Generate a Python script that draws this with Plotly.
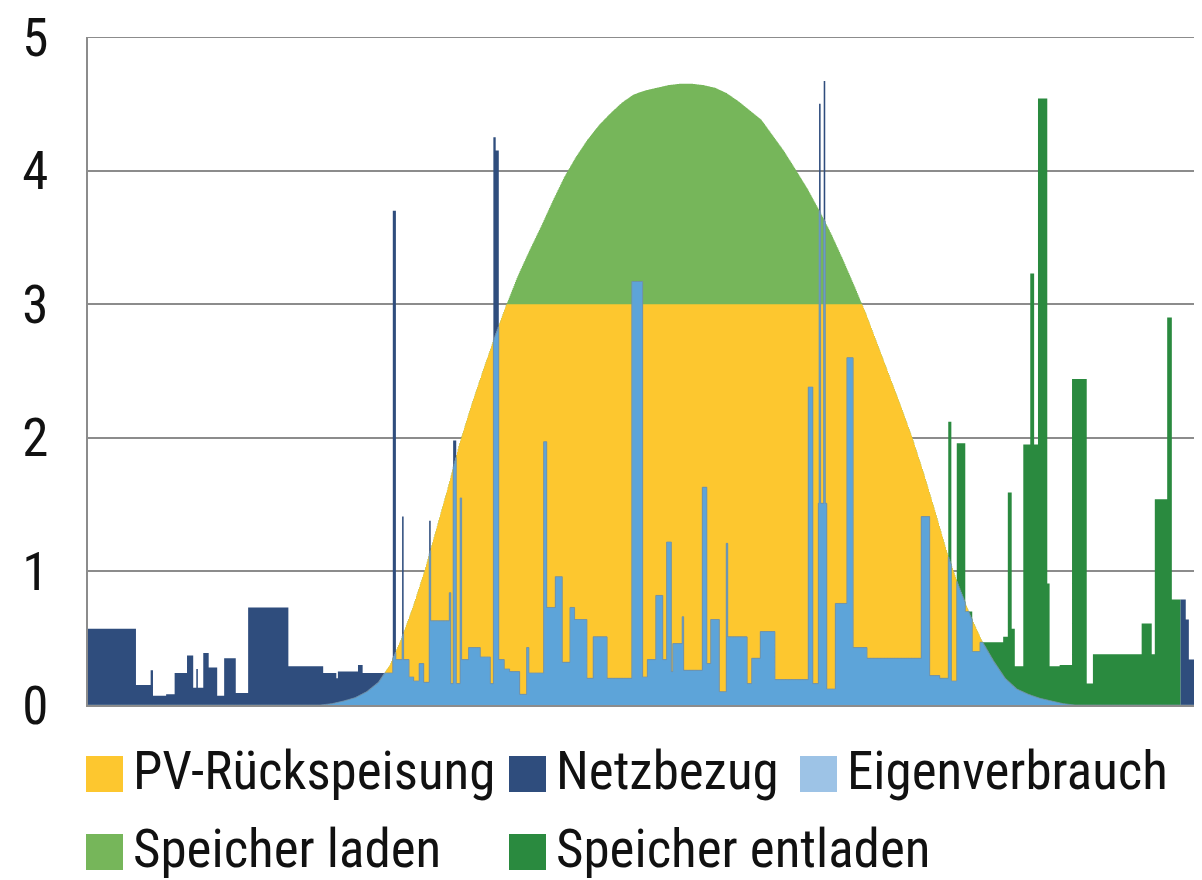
import numpy as np
import plotly.graph_objects as go

# PV generation (kW), sampled every 15 minutes; minute of the day
pv_minute = [285, 300, 315, 330, 345, 360, 375, 390, 405, 420, 435, 450, 465, 480,
             495, 510, 525, 540, 555, 570, 585, 600, 615, 630, 645, 660, 675, 690,
             705, 720, 735, 750, 765, 780, 795, 810, 825, 840, 855, 870, 885, 900,
             915, 930, 945, 960, 975, 990, 1005, 1020, 1035, 1050, 1065, 1080, 1095,
             1110, 1125, 1140, 1155, 1170, 1185, 1200, 1215, 1230, 1245, 1260, 1275, 1290]
pv_kw = [0.00, 0.00, 0.01, 0.03, 0.055, 0.10, 0.17, 0.30, 0.50, 0.74, 1.01, 1.32, 1.63, 1.96,
         2.24, 2.50, 2.75, 2.99, 3.21, 3.40, 3.58, 3.77, 3.95, 4.10, 4.23, 4.34, 4.43, 4.51,
         4.57, 4.60, 4.62, 4.64, 4.65, 4.65, 4.64, 4.62, 4.58, 4.52, 4.45, 4.38, 4.26, 4.14,
         4.00, 3.86, 3.70, 3.53, 3.34, 3.14, 2.93, 2.70, 2.47, 2.24, 2.00, 1.73, 1.44,
         1.14, 0.89, 0.67, 0.48, 0.33, 0.20, 0.12, 0.08, 0.05, 0.03, 0.01, 0.00, 0.00]

# household load (kW): each value holds from its minute until the next entry
load_minute = [0, 62, 81, 84, 101, 112, 128, 136, 140, 142, 149, 156, 167, 176, 191, 207,
               259, 304, 321, 323, 349, 355, 394, 398, 406, 408, 415, 421, 428, 434, 441,
               443, 467, 469, 472, 476, 481, 483, 492, 507, 520, 524, 527, 531, 538, 545,
               558, 567, 570, 589, 593, 604, 613, 623, 629, 645, 653, 671, 703, 717, 723,
               734, 743, 748, 754, 756, 768, 770, 794, 800, 805, 816, 825, 827, 852, 858,
               869, 888, 931, 937, 944, 945, 947, 951, 953, 955, 966, 981, 989, 1007, 1077,
               1088, 1101, 1112, 1116, 1123, 1134, 1143, 1153, 1183, 1189, 1194, 1198, 1209,
               1218, 1223, 1228, 1240, 1243, 1256, 1272, 1291, 1299, 1362, 1375, 1379, 1395,
               1401, 1419, 1423, 1440]
load_kw = [0.57, 0.15, 0.26, 0.07, 0.08, 0.24, 0.37, 0.13, 0.27, 0.13, 0.39, 0.28, 0.07, 0.35, 0.09, 0.73,
           0.29, 0.24, 0.20, 0.25, 0.30, 0.24, 3.70, 0.34, 1.41, 0.34, 0.21, 0.18, 0.31, 0.17, 1.38,
           0.63, 0.84, 0.16, 1.98, 0.16, 1.55, 0.34, 0.43, 0.36, 0.16, 4.25, 4.15, 0.34, 0.27, 0.25,
           0.08, 0.43, 0.24, 1.97, 0.73, 0.96, 0.32, 0.73, 0.64, 0.20, 0.51, 0.20, 3.17, 0.21, 0.34,
           0.82, 0.34, 1.22, 0.25, 0.46, 0.66, 0.26, 1.63, 0.31, 0.64, 0.10, 1.21, 0.51, 0.16, 0.35,
           0.55, 0.19, 2.38, 0.16, 1.51, 4.50, 1.51, 4.67, 1.51, 0.12, 0.76, 2.60, 0.43, 0.35, 1.41,
           0.22, 0.20, 2.12, 0.18, 1.96, 0.70, 0.40, 0.47, 0.51, 1.59, 0.57, 0.29, 1.95,
           3.23, 1.95, 4.54, 0.91, 0.29, 0.30, 2.44, 0.16, 0.38, 0.61, 0.38, 1.54, 2.90,
           0.79, 0.64, 0.34, 0.34]

# battery covers the deficit in this window, grid otherwise
battery_from = 1105
battery_to = 1412
feed_in_limit = 3.0  # kW, rest goes into the battery

y_ticks = [0, 1, 2, 3, 4, 5]

legend_names = ["PV-Rückspeisung", "Netzbezug", "Eigenverbrauch", "Speicher laden", "Speicher entladen"]
legend_colors = ["#FDC72F", "#2F4D7D", "#9DC3E6", "#76B65A", "#2A8A3F"]

FONT = "Liberation Sans Narrow, Roboto Condensed, DejaVu Sans Condensed, Arial Narrow, sans-serif"

t = np.arange(0, 1441)
load = np.array(load_kw)[np.searchsorted(load_minute, t, side="right") - 1]
pv = np.interp(t, pv_minute, pv_kw)
own = np.minimum(load, pv)
in_batt = (t >= battery_from) & (t < battery_to)
grid = np.where(in_batt, 0, load)
batt = np.where(in_batt, load, 0)
feed = np.minimum(pv, feed_in_limit)

fig = go.Figure()


def area(y, color, name, edge=None):
    fig.add_trace(go.Scatter(
        x=t, y=y, name=name, mode="lines", line_shape="hv",
        fill="tozeroy", fillcolor=color,
        line=dict(width=0.8 if edge else 0, color=edge or color),
        showlegend=False, hoverinfo="skip"))


area(pv, "#76B65A", "Speicher laden")
area(feed, "#FDC72F", "PV-Rückspeisung")
area(grid, "#2F4D7D", "Netzbezug")
area(batt, "#2A8A3F", "Speicher entladen")
area(own, "#5DA4D9", "Eigenverbrauch", edge="#7895AA")

# plot box in window pixels; the page body adds an 8px margin around the figure
PAGE = 8
L, R, T, B = 88, 1202, 37, 705


def px(x):
    return (x - L) / (R - L)


def py(y):
    return (B - y) / (B - T)


# top gridline at 5 (plotly skips the grid line on the range edge)
fig.add_shape(type="line", xref="paper", yref="y", x0=0, x1=1, y0=5, y1=5,
              line=dict(color="#8C8C8C", width=2), layer="below")

# hand-made legend below the plot
legend_pos = [(86, 774), (509, 774), (800, 774), (86, 852), (509, 852)]
for name, color, (x0, yc) in zip(legend_names, legend_colors, legend_pos):
    fig.add_shape(type="rect", xref="paper", yref="paper",
                  x0=px(x0), x1=px(x0 + 37), y0=py(yc + 18), y1=py(yc - 18),
                  fillcolor=color, line_width=0)
    fig.add_annotation(text=name, xref="paper", yref="paper", x=px(x0 + 45), y=py(yc - 3),
                       xanchor="left", yanchor="middle", showarrow=False,
                       font=dict(family=FONT, size=53, color="#111111"))

fig.update_layout(
    width=1202, height=880,
    margin=dict(l=L - PAGE, r=1202 - R + PAGE, t=T - PAGE, b=880 - B + PAGE),
    plot_bgcolor="white", paper_bgcolor="white",
    font=dict(family=FONT, size=53, color="#111111"),
    xaxis=dict(range=[0, 1440], showticklabels=False, showgrid=False, zeroline=False,
               showline=True, linecolor="#8C8C8C", linewidth=2, ticks="",
               automargin=False),
    yaxis=dict(range=[0, 5], tickvals=y_ticks, ticktext=[str(v) for v in y_ticks],
               showgrid=True, gridcolor="#8C8C8C", gridwidth=2,
               zeroline=False, showline=True, linecolor="#8C8C8C", linewidth=2, ticks="",
               automargin=False, ticklabelstandoff=27, ticklabeloverflow="allow",
               tickfont=dict(family=FONT, size=53, color="#111111")),
)

fig.write_html("out.html")
